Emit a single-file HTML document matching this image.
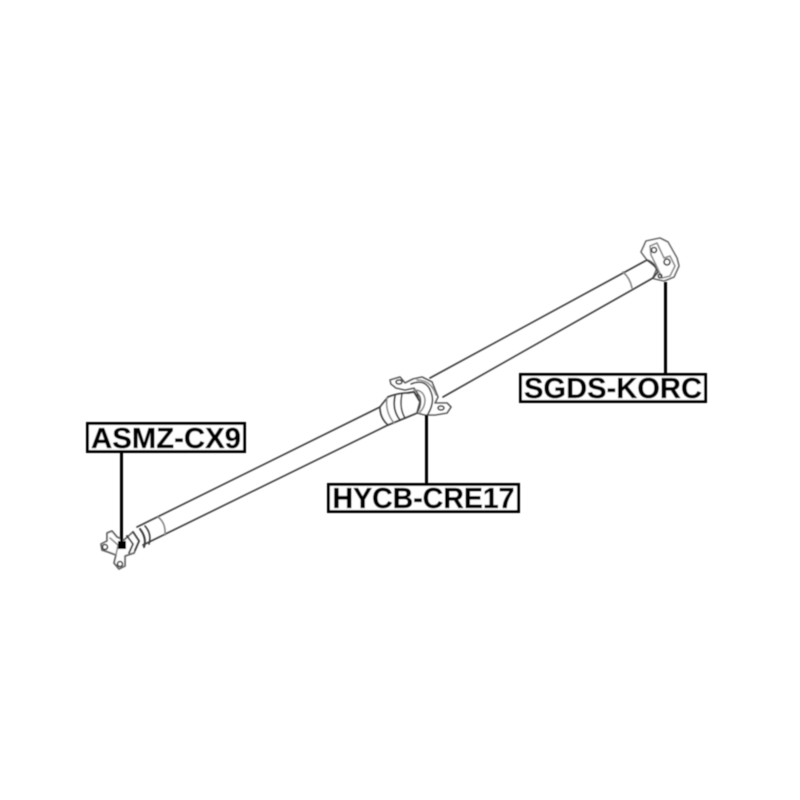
<!DOCTYPE html>
<html>
<head>
<meta charset="utf-8">
<style>
html,body{margin:0;padding:0;background:#fff;width:800px;height:800px;overflow:hidden}
svg{display:block}
text{font-family:"Liberation Sans",Arial,sans-serif;font-weight:bold;font-size:28.5px;fill:#000;stroke:#000;stroke-width:.3}
</style>
</head>
<body>
<svg width="800" height="800" viewBox="0 0 800 800" xmlns="http://www.w3.org/2000/svg">
<defs><filter id="b" x="-5%" y="-5%" width="110%" height="110%"><feGaussianBlur stdDeviation="0.45"/></filter></defs>
<rect width="800" height="800" fill="#fff"/>
<g filter="url(#b)">
<g fill="none" stroke="#3c3c3c" stroke-width="1.6" stroke-linejoin="round" stroke-linecap="round">
  <!-- left shaft -->
  <path d="M137 527L380 407"/>
  <path d="M143 545L388 425"/>
  <path d="M158 517Q166 523 165 535" stroke="#888"/>
  <path d="M145 526Q152 534 149 544"/>
  <path d="M140 529Q147 538 144 547" stroke-width="2"/>
  <!-- left yoke -->
  <path d="M107 533L112 531L117 537L124 540L133 532L139 541L134 553L125 556L125 566L119 569L114 563L116 555L108 552L102 550L101 544L107 541Z" fill="#fff" stroke="#666" stroke-width="1.8"/>
  <path d="M110 538L118 545L116 555" stroke="#888"/>
  <path d="M127 536L133 544L129 553" stroke-width="1.8"/>
  <path d="M133 532L139 541L135 550" stroke-width="1.8"/>
  <circle cx="105" cy="547" r="2.5"/>
  <circle cx="120" cy="564" r="2.5"/>
  <!-- right shaft -->
  <path d="M430 378L647 260"/>
  <path d="M443 397L653 278"/>
  <path d="M623 272Q630 278 632 288" stroke="#888"/>
  <!-- center coupling boot -->
  <path d="M380 407L388 397Q398 393 408 393L417 395L422 410L417 413L405 418L388 425Q380 418 380 407Z" fill="#fff" stroke-width="1.8"/>
  <path d="M387 398Q385 412 394 423" stroke="#888"/>
  <path d="M395 396Q392 410 400 420" stroke-width="1.8"/>
  <path d="M402 394Q399 408 405 418"/>
  <path d="M408 393L414 392L420 402L417 413" fill="#fff" stroke-width="2"/>
  <!-- center bearing -->
  <path d="M390 380L400 377L405 383L413 379L422 377L432 382L438 397L435 403L447 403L451 407L447 413L435 415L425 415L417 413Q422 405 420 397L414 388L405 390L396 388L391 384Z" fill="#fff" stroke="#555" stroke-width="1.6"/>
  <path d="M411 384Q426 378 431 392Q435 402 428 414"/>
  <path d="M417 380Q431 380 436 395" stroke="#888"/>
  <path d="M414 390Q424 390 425 400Q425 407 420 412" stroke="#888"/>
  <ellipse cx="399" cy="382" rx="3" ry="2"/>
  <ellipse cx="441" cy="408" rx="3" ry="2"/>
  <!-- right flange -->
  <path d="M647 260L641 252L646 241L660 238L668 242L677 258L679 266L674 277L664 281L655 279L653 278L657 268Z" fill="#fff" stroke="#666" stroke-width="1.6"/>
  <path d="M647 260Q654 262 658 272L653 278" stroke-width="1.8"/>
  <path d="M650 246L657 243L664 258L670 256L675 266L670 276L662 278L656 265L651 255Z" stroke="#888"/>
  <circle cx="654" cy="250" r="2.5"/>
  <circle cx="667" cy="262" r="3"/>
  <circle cx="660" cy="276" r="1.8"/>
</g>
<!-- leaders -->
<line x1="121.5" y1="451" x2="121.5" y2="545" stroke="#000" stroke-width="3"/>
<rect x="118" y="541" width="8" height="8" fill="#000"/>
<line x1="426.5" y1="415" x2="426.5" y2="484" stroke="#000" stroke-width="3"/>
<line x1="665.5" y1="282" x2="665.5" y2="374" stroke="#000" stroke-width="3"/>
<!-- labels -->
<rect x="87.5" y="423.5" width="157" height="28" fill="#fff" stroke="#000" stroke-width="3"/>
<text x="166" y="448" text-anchor="middle" textLength="150" lengthAdjust="spacingAndGlyphs">ASMZ-CX9</text>
<rect x="328.5" y="484.5" width="190" height="27" fill="#fff" stroke="#000" stroke-width="3"/>
<text x="423.5" y="508" text-anchor="middle" textLength="182" lengthAdjust="spacingAndGlyphs">HYCB-CRE17</text>
<rect x="520.5" y="374.5" width="185" height="27" fill="#fff" stroke="#000" stroke-width="3"/>
<text x="613" y="398" text-anchor="middle" textLength="178" lengthAdjust="spacingAndGlyphs">SGDS-KORC</text>
</g>
</svg>
</body>
</html>
